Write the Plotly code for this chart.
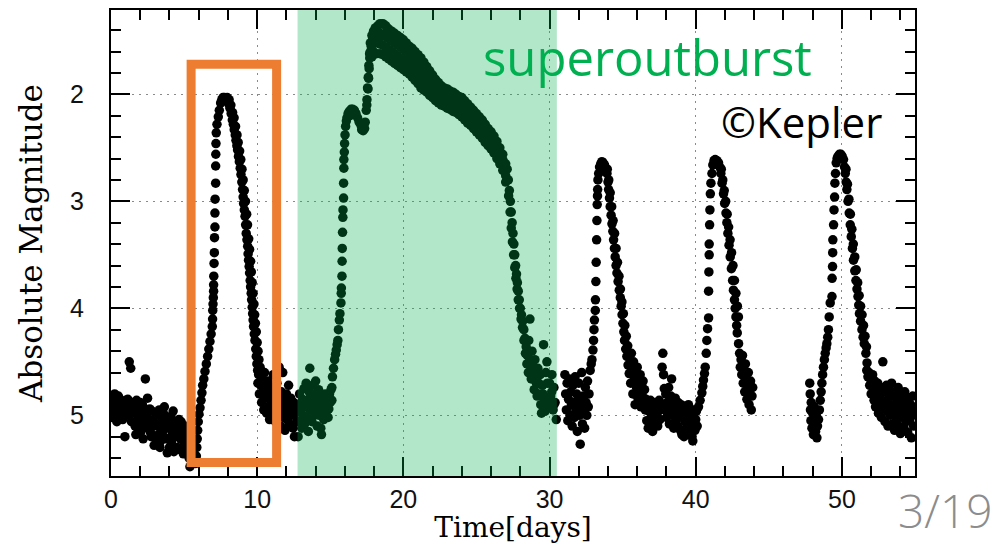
import plotly.graph_objects as go

# ---------------- data ----------------
# quiescence before the first normal outburst
q0_t = [0.05,0.15,0.25,0.35,0.45,0.55,0.65,0.75,0.85,0.95,1.05,1.15,1.25,1.35,1.45,1.55,1.65,1.75,1.85,1.95,
        2.05,2.15,2.25,2.35,2.45,2.55,2.65,2.75,2.85,2.95,3.05,3.15,3.25,3.35,3.45,3.55,3.65,3.75,3.85,3.95,
        4.05,4.15,4.25,4.35,4.45,4.55,4.65,4.75,4.85,4.95,5.05,5.15,5.25,5.35,5.45,
        0.0,0.1,0.2,0.3,0.4,0.5,0.6,0.7,0.8,0.9,1.0,1.1,1.2,1.3,1.4,1.5,1.6,1.7,1.8,1.9,
        2.0,2.1,2.2,2.3,2.4,2.5,2.6,2.7,2.8,2.9,3.0,3.1,3.2,3.3,3.4,3.5,3.6,3.7,3.8,3.9,
        4.0,4.1,4.2,4.3,4.4,4.5,4.6,4.7,4.8,4.9,5.0,5.1,5.2,5.3,5.4]
q0_m = [4.86,4.95,4.80,5.00,4.90,4.84,5.02,4.92,4.88,5.20,4.96,4.85,4.50,4.56,4.98,4.92,5.10,4.86,5.04,4.95,
        5.15,4.90,5.05,4.66,5.00,5.12,4.94,5.20,5.05,5.28,5.08,4.98,5.18,5.30,5.02,5.14,4.92,5.22,5.35,5.06,
        5.12,5.26,4.96,5.18,5.10,5.30,5.04,5.22,5.14,5.36,5.10,5.24,5.18,5.40,5.30,
        4.90,5.02,4.88,4.94,5.06,4.82,4.96,4.88,5.04,4.94,4.86,5.00,4.92,4.90,5.06,4.88,4.98,5.18,4.94,5.10,
        4.88,5.02,5.22,4.96,5.10,4.84,5.04,5.16,4.96,5.10,5.20,5.00,5.10,4.95,5.24,5.08,5.20,5.00,5.12,5.22,
        5.30,5.02,5.16,5.34,5.20,5.08,5.16,5.32,5.06,5.20,5.28,5.16,5.30,5.20,5.48]

# first normal outburst
o1_rise_t = [5.80,5.84,5.87,5.90,5.93,5.97,6.02,6.09,6.16,6.22,6.27,6.35,6.43,6.52,6.61,6.69,6.77,6.85,6.93,6.95,
             6.96,6.98,7.00,7.02,7.02,7.03,7.05,7.07,7.08,7.11,7.11,7.12,7.16,7.16,7.17,7.18,7.20,7.25,7.34,7.41,
             7.50,7.58,7.66,7.75]
o1_rise_m = [5.45,5.38,5.30,5.22,5.14,5.06,4.99,4.93,4.86,4.79,4.72,4.66,4.59,4.52,4.45,4.38,4.31,4.24,4.17,4.10,
             4.02,3.96,3.90,3.84,3.78,3.70,3.58,3.48,3.34,3.24,3.11,2.98,2.83,2.67,2.56,2.46,2.36,2.28,2.21,2.15,
             2.08,2.05,2.03,2.03]
o1_decl_t = [7.85,7.95,8.05,8.14,8.22,8.30,8.37,8.43,8.50,8.55,8.61,8.66,8.72,8.78,8.84,8.89,8.95,9.00,9.04,9.07,
             9.12,9.17,9.21,9.25,9.30,9.35,9.38,9.41,9.45,9.48,9.52,9.55,9.59,9.62,9.66,9.69,9.72,9.75,9.80,9.85,
             9.90,9.94,9.98,10.03,
             7.95,8.08,8.20,8.32,8.42,8.52,8.62,8.70,8.80,8.88,8.96,9.04,9.12,9.20,9.28,9.34,9.42,9.48,9.55,9.60,
             9.66,9.72,9.78,9.83,9.88,9.94,10.00,10.06,10.12]
o1_decl_m = [2.04,2.06,2.09,2.13,2.18,2.24,2.28,2.33,2.38,2.43,2.48,2.52,2.58,2.63,2.69,2.75,2.82,2.89,2.96,3.02,
             3.08,3.14,3.22,3.30,3.36,3.42,3.49,3.55,3.61,3.67,3.74,3.80,3.86,3.92,3.99,4.05,4.11,4.17,4.24,4.30,
             4.38,4.45,4.52,4.58,
             2.03,2.05,2.10,2.17,2.22,2.30,2.38,2.45,2.53,2.61,2.70,2.80,2.90,3.00,3.12,3.22,3.35,3.45,3.56,3.66,
             3.76,3.86,3.96,4.06,4.14,4.22,4.32,4.40,4.48]
q1_t = [10.05,10.10,10.15,10.20,10.25,10.30,10.35,10.40,10.45,10.50,10.55,10.60,10.65,10.70,10.75,10.80,10.85,
        10.90,10.95,11.00,11.05,11.10,11.15,11.20,11.25,11.30,11.35,11.40,11.45,11.50,11.55,11.60,11.65,11.70,
        11.75,11.80,11.85,11.90,11.95,12.00,12.05,12.10,12.15,12.20,12.25,12.30,12.35,12.40,12.45,12.50,12.55,
        12.60,12.65,12.70]
q1_m = [4.70,4.62,4.80,4.55,4.72,4.88,4.66,4.78,4.95,4.60,4.84,4.72,4.98,4.80,4.68,4.92,5.04,
        4.86,4.74,5.00,4.88,4.62,4.95,4.80,5.06,4.90,4.70,5.00,4.84,4.55,4.96,5.10,4.78,4.92,
        4.60,5.02,4.86,5.14,4.96,4.80,5.04,4.90,4.72,5.08,4.94,4.84,5.00,4.92,5.12,4.88,5.20,
        4.98,4.90,5.06]

# superoutburst
q2_t = [12.80,12.85,12.90,12.95,13.00,13.05,13.10,13.15,13.20,13.25,13.30,13.35,13.40,13.45,13.50,13.55,13.60,
        13.65,13.70,13.75,13.80,13.85,13.90,13.95,14.00,14.05,14.10,14.15,14.20,14.25,14.30,14.35,14.40,14.45,
        14.50,14.55,14.60,14.65,14.70,14.75,14.80,14.85,14.90,14.95,15.00,15.05]
q2_m = [5.20,4.95,4.80,5.05,4.90,5.12,4.85,5.00,4.75,5.08,4.92,4.70,5.02,4.86,5.15,4.78,4.56,
        4.96,4.84,5.06,4.72,4.90,5.00,4.80,4.68,4.94,5.10,4.86,4.76,5.00,4.90,5.12,5.18,4.82,
        4.96,5.04,4.88,4.80,4.98,4.90,4.84,5.02,4.94,4.80,4.88,4.76]
so_rise_t = [15.11,15.11,15.15,15.22,15.30,15.36,15.41,15.47,15.52,15.56,15.62,15.66,15.73,15.75,15.76,15.80,
             15.81,15.82,15.84,15.86,15.87,15.91,15.91,15.93,15.93,15.96,15.98,16.01,16.05,16.10,16.14,16.22,
             16.30,16.42,16.53,16.65,16.76,16.87,16.98,17.10,17.21,17.30,17.39,17.46,17.51,17.55,17.60,17.64,
             17.69,17.74,17.85,17.96,18.08,18.25,
             16.35,16.50,17.15,17.25,17.35,17.50,17.58,17.62,17.66,17.70,17.75,17.80,17.85,17.90,17.95,18.00,
             18.10,18.15,18.20,18.30]
so_rise_m = [4.86,4.74,4.64,4.56,4.48,4.43,4.39,4.34,4.30,4.20,4.11,4.05,3.95,3.86,3.81,3.70,
             3.56,3.44,3.29,3.15,3.08,2.97,2.83,2.69,2.61,2.54,2.46,2.38,2.30,2.25,2.22,2.18,
             2.16,2.14,2.14,2.15,2.18,2.22,2.26,2.29,2.30,2.28,2.26,2.15,2.05,1.94,1.84,1.73,
             1.62,1.52,1.45,1.41,1.38,1.36,
             2.20,2.18,2.33,2.34,2.32,2.10,1.95,1.85,1.76,1.66,1.60,1.55,1.65,1.48,1.60,1.42,
             1.52,1.62,1.40,1.50]
so_plat_t = [18.4,18.6,18.8,19.0,19.2,19.4,19.6,19.8,20.0,20.2,20.4,20.6,20.8,21.0,21.2,21.4,21.6,21.8,
             22.0,22.2,22.4,22.6,22.8,23.0,23.2,23.4,23.6,23.8,24.0,24.2,24.4,24.6,24.8,25.0,25.2,25.4,
             25.6,25.8,26.0,26.2,26.4,26.6,26.8,27.0]
so_plat_a = [1.34,1.34,1.36,1.39,1.41,1.43,1.45,1.47,1.49,1.52,1.55,1.57,1.60,1.63,1.66,1.70,1.74,1.78,
             1.82,1.86,1.89,1.92,1.94,1.95,1.97,1.98,2.00,2.02,2.03,2.06,2.09,2.12,2.15,2.18,2.21,2.24,
             2.28,2.32,2.35,2.39,2.44,2.50,2.56,2.65]
so_plat_b = [1.43,1.44,1.46,1.48,1.50,1.52,1.54,1.56,1.58,1.61,1.63,1.66,1.69,1.72,1.75,1.79,1.82,1.86,
             1.89,1.92,1.95,1.98,1.99,2.01,2.03,2.04,2.06,2.08,2.09,2.12,2.15,2.18,2.21,2.24,2.27,2.30,
             2.34,2.37,2.40,2.44,2.49,2.55,2.61,2.70]
so_plat_c = [1.53,1.54,1.56,1.58,1.60,1.62,1.64,1.66,1.68,1.70,1.72,1.75,1.78,1.81,1.85,1.88,1.90,1.93,
             1.96,1.99,2.02,2.04,2.05,2.07,2.09,2.10,2.12,2.14,2.15,2.18,2.21,2.23,2.26,2.29,2.32,2.35,
             2.39,2.43,2.46,2.50,2.55,2.60,2.66,2.76]
so_plat_d = [1.62,1.63,1.65,1.67,1.69,1.71,1.73,1.75,1.77,1.79,1.81,1.84,1.87,1.90,1.94,1.96,1.98,2.01,
             2.03,2.06,2.08,2.10,2.11,2.13,2.14,2.16,2.17,2.19,2.21,2.24,2.27,2.29,2.32,2.35,2.38,2.41,
             2.45,2.48,2.51,2.55,2.60,2.65,2.71,2.82]
so_decl_t = [27.10,27.18,27.25,27.32,27.38,27.44,27.50,27.56,27.62,27.68,27.74,27.80,27.86,27.93,28.00,28.08,
             28.16,28.24,28.32,28.40,28.48,28.58,28.66,28.70,28.80,28.90,29.00,29.10,29.20,29.30,29.36,29.45,
             29.52,29.59,29.66,29.75,29.82,29.90,30.00,30.08,30.16,30.24,30.30,30.38,30.46,
             27.20,27.30,27.38,27.46,27.54,27.62,27.70,27.78,27.86,27.95,28.05,28.15,28.25,28.35,28.45,28.55,
             28.65,28.75,28.85,28.95,29.05,29.15,29.25,29.40,29.55,29.70,29.85,30.00,30.15,30.30]
so_decl_m = [2.70,2.80,2.90,3.00,3.10,3.20,3.30,3.40,3.50,3.60,3.68,3.76,3.84,3.92,4.00,4.06,
             4.12,4.20,4.28,4.36,4.44,4.30,4.10,4.52,4.40,4.60,4.48,4.70,4.56,4.80,4.62,4.98,
             4.72,4.34,4.86,4.60,4.50,4.92,4.70,4.82,4.62,4.95,4.74,4.88,5.04,
             2.95,3.10,3.25,3.38,3.50,3.62,3.72,3.82,3.92,4.00,4.10,4.18,4.30,4.42,4.52,4.60,
             4.48,4.66,4.55,4.76,4.64,4.82,4.70,4.90,4.80,4.96,4.70,4.88,4.78,4.90]

# second normal outburst
q3_t = [31.05,31.10,31.15,31.20,31.25,31.30,31.35,31.40,31.45,31.50,31.55,31.60,31.65,31.70,31.75,31.80,31.85,
        31.90,31.95,32.00,32.05,32.10,32.15,32.20,32.25,32.30,32.35,32.40,32.45,32.50,32.55,32.60,32.65,32.70]
q3_m = [4.62,4.80,4.95,4.70,5.05,4.85,4.66,5.00,4.78,4.90,5.10,4.72,4.88,5.02,4.64,4.95,4.80,
        5.15,4.86,4.70,5.00,5.27,4.90,4.60,5.08,4.82,4.95,5.12,4.74,4.88,5.00,4.68,4.92,4.80]
o2_t = [32.78,32.85,32.90,32.97,33.01,33.04,33.07,33.13,33.14,33.17,33.19,33.22,33.24,33.26,33.28,33.29,33.31,
        33.36,33.42,33.50,33.58,33.67,33.76,
        33.85,33.93,34.00,34.04,34.10,34.15,34.21,34.27,34.33,34.38,34.44,34.49,34.55,34.61,34.69,34.77,34.84,
        34.90,34.96,35.02,35.08,35.13,35.21,35.29,35.37,35.45,
        33.95,34.05,34.15,34.25,34.35,34.45,34.55,34.65,34.75,34.85,34.95,35.05,35.15,35.25,35.35,35.45,35.55]
o2_m = [4.58,4.52,4.48,4.39,4.30,4.20,4.11,4.02,3.92,3.75,3.57,3.36,3.18,3.03,2.95,2.89,2.80,
        2.74,2.68,2.65,2.63,2.64,2.66,
        2.70,2.74,2.82,2.89,2.97,3.05,3.13,3.21,3.28,3.36,3.44,3.52,3.60,3.67,3.75,3.83,3.90,
        3.98,4.06,4.14,4.22,4.30,4.38,4.45,4.53,4.61,
        2.70,2.80,2.92,3.05,3.18,3.30,3.44,3.57,3.70,3.82,3.94,4.05,4.16,4.26,4.35,4.42,4.50]
q4_t = [35.55,35.60,35.65,35.70,35.75,35.80,35.85,35.90,35.95,36.00,36.05,36.10,36.15,36.20,36.25,36.30,36.35,
        36.40,36.45,36.50,36.55,36.60,36.65,36.70,36.75,36.80,36.85,36.90,36.95,37.00,37.05,37.10,37.15,37.20,
        37.25,37.30,37.35,37.40,37.45,37.50,37.55,37.60,37.70,37.75,37.80,37.85,37.90,37.95,38.00,38.05,38.10,
        38.15,38.20,38.25,38.30,38.35,38.40,38.45,38.50,38.55,38.60,38.65,38.70,38.75,38.80,38.85,38.90,38.95,
        39.00,39.05,39.10,39.15,39.20,39.25,39.30,39.35,39.40,39.45,39.50,39.55,39.60,39.65,39.70,39.75,39.80,
        39.85,39.90,39.95,40.00,40.05,40.10]
q4_m = [4.70,4.42,4.58,4.80,4.50,4.66,4.90,4.60,4.74,4.55,4.84,4.68,4.78,4.62,4.92,4.72,4.82,
        4.68,4.88,4.76,4.95,4.85,5.05,4.90,5.12,4.96,5.10,4.86,5.02,4.92,5.15,4.98,4.88,5.08,
        4.94,5.00,4.90,5.10,4.96,4.86,5.04,4.92,4.55,4.42,4.62,4.75,4.95,4.80,5.02,4.88,4.96,
        4.74,5.08,4.90,4.82,4.66,5.00,4.86,5.12,4.94,4.84,5.04,4.92,5.10,4.88,5.00,4.96,5.14,
        4.90,5.18,5.02,4.92,5.20,5.06,4.96,5.12,4.98,5.08,4.90,5.16,5.02,4.94,5.10,5.20,5.24,
        5.06,4.98,5.14,5.04,4.96,5.10]

# third normal outburst
o3_t = [40.19,40.30,40.42,40.48,40.53,40.60,40.65,40.72,40.76,40.81,40.88,40.88,40.90,40.92,40.92,40.95,40.97,
        41.00,41.04,41.11,41.17,41.25,41.33,41.45,41.56,
        41.65,41.72,41.80,41.90,41.98,42.07,42.13,42.20,42.28,42.36,42.44,42.52,42.58,42.65,42.70,42.75,42.80,
        42.84,42.93,
        41.75,41.85,41.95,42.05,42.15,42.25,42.35,42.45,42.55,42.65,42.75,42.85,42.92,
        43.00,43.05,43.10,43.15,43.20,43.25,43.30,43.35,43.40,43.45,43.50,43.55,43.60,43.65,43.70,43.75,43.80,
        43.85,43.90]
o3_m = [4.92,4.86,4.79,4.73,4.67,4.61,4.55,4.42,4.30,4.19,4.09,3.84,3.66,3.50,3.40,3.22,3.08,
        2.93,2.83,2.74,2.66,2.62,2.61,2.62,2.64,
        2.68,2.74,2.83,2.93,3.02,3.11,3.20,3.30,3.41,3.52,3.63,3.74,3.83,3.92,4.00,4.08,4.16,
        4.23,4.33,
        2.70,2.80,2.90,3.00,3.12,3.24,3.36,3.48,3.60,3.74,3.86,3.98,4.08,
        4.42,4.55,4.48,4.62,4.44,4.70,4.58,4.78,4.52,4.66,4.85,4.72,4.60,4.90,4.76,4.68,4.95,
        4.82,4.74]

# fourth normal outburst
o4_t = [47.80,47.83,47.85,47.88,47.90,47.95,48.00,48.05,48.10,48.15,48.20,48.25,48.29,48.33,
        48.40,48.46,48.52,48.58,48.63,48.68,48.74,48.80,48.86,48.92,48.97,49.03,49.08,49.13,49.20,49.32,
        49.33,49.36,49.37,49.38,49.43,49.46,49.50,49.52,49.56,49.61,49.67,49.73,49.83,49.93,50.02,50.11,
        50.18,50.23,50.29,50.34,50.42,50.50,50.57,50.64,50.72,50.79,50.88,50.96,51.03,51.10,51.15,51.20,
        51.28,51.37,51.45,51.53,51.64,
        50.28,50.38,50.48,50.58,50.68,50.78,50.88,50.98,51.08,51.18,51.28,51.38,51.48,51.58,51.68]
o4_m = [4.70,4.80,4.95,5.05,4.88,5.12,4.98,5.18,4.92,5.08,5.15,5.00,5.21,5.10,
        5.04,4.95,4.86,4.78,4.70,4.62,4.55,4.48,4.42,4.37,4.33,4.27,4.20,4.08,3.95,3.89,
        3.72,3.61,3.48,3.36,3.22,3.08,2.96,2.83,2.74,2.64,2.60,2.58,2.56,2.56,2.58,2.61,
        2.68,2.74,2.82,2.89,3.00,3.11,3.22,3.33,3.44,3.55,3.65,3.74,3.82,3.89,3.97,4.05,
        4.12,4.20,4.27,4.33,4.42,
        2.70,2.84,2.98,3.12,3.26,3.40,3.52,3.64,3.76,3.88,3.98,4.06,4.16,4.26,4.36]
q5_t = [51.70,51.72,51.78,51.85,51.90,51.95,52.00,52.05,52.10,52.15,52.20,52.25,52.30,52.35,52.40,52.45,52.50,
        52.55,52.60,52.65,52.70,52.75,52.80,52.85,52.90,52.95,53.00,53.05,53.10,53.15,53.20,53.25,53.30,53.35,
        53.40,53.45,53.50,53.55,53.60,53.65,53.70,53.75,53.80,53.85,53.90,53.95,54.00,54.05,54.10,54.15,54.20,
        54.25,54.30,54.35,54.40,54.45,54.50,54.55,54.60,54.65,54.70,54.75,54.80,54.85,54.90,54.95]
q5_m = [4.58,4.51,4.64,4.60,4.72,4.66,4.80,4.70,4.62,4.78,4.86,4.68,4.92,4.76,4.84,4.70,4.98,
        4.80,4.90,4.74,5.02,4.86,4.50,4.94,4.78,5.06,4.88,4.72,4.96,5.10,4.84,4.76,5.00,4.90,
        4.70,5.08,4.82,4.96,5.14,4.78,4.92,5.04,4.86,4.74,5.10,4.96,5.17,4.88,4.80,5.02,4.92,
        5.12,4.78,4.98,5.06,4.86,5.16,4.94,4.84,5.04,4.90,5.21,5.00,4.82,5.10,4.96]

x_ticks = [0, 10, 20, 30, 40, 50]
y_ticks = [2, 3, 4, 5]
superoutburst_span = [12.76, 30.5]
highlight_box = [5.48, 11.33, 1.72, 5.44]   # x0, x1, y top, y bottom

# ---------------- assemble ----------------
time_days = (q0_t + o1_rise_t + o1_decl_t + q1_t + q2_t + so_rise_t + so_plat_t * 4 + so_decl_t
             + q3_t + o2_t + q4_t + o3_t + o4_t + q5_t)
abs_mag = (q0_m + o1_rise_m + o1_decl_m + q1_m + q2_m + so_rise_m + so_plat_a + so_plat_b + so_plat_c
           + so_plat_d + so_decl_m + q3_m + o2_m + q4_m + o3_m + o4_m + q5_m)

fig = go.Figure()
fig.add_trace(go.Scatter(x=time_days, y=abs_mag, mode="markers",
                         marker=dict(size=9.5, color="black", line=dict(width=0)),
                         showlegend=False, hoverinfo="skip"))

# superoutburst shading (drawn over the points, so they turn dark green)
fig.add_shape(type="rect", xref="x", yref="paper", x0=superoutburst_span[0], x1=superoutburst_span[1],
              y0=0, y1=1, fillcolor="rgb(0,176,80)", opacity=0.3, line=dict(width=0), layer="above")
# orange box around the first normal outburst
fig.add_shape(type="rect", xref="x", yref="y", x0=highlight_box[0], x1=highlight_box[1],
              y0=highlight_box[2], y1=highlight_box[3], line=dict(color="#ED7D31", width=9),
              fillcolor="rgba(0,0,0,0)", layer="above")

fig.add_annotation(text="superoutburst", xref="paper", yref="paper", x=0.667, y=0.900,
                   xanchor="center", yanchor="middle", showarrow=False,
                   font=dict(family="Open Sans", size=49, color="#00B050"))
fig.add_annotation(text="©Kepler", xref="paper", yref="paper", x=0.859, y=0.760,
                   xanchor="center", yanchor="middle", showarrow=False,
                   font=dict(family="Open Sans", size=42, color="black"))
fig.add_annotation(text="3/19", xref="paper", yref="paper", x=1.037, y=-0.073,
                   xanchor="center", yanchor="middle", showarrow=False,
                   font=dict(family="Open Sans", size=46, color="#8c8c8c", weight=300))

axis_common = dict(showline=True, linewidth=2, linecolor="black", mirror="ticks",
                   ticks="inside", tickwidth=1.6, tickcolor="black", ticklen=19,
                   showgrid=True, gridcolor="#8a8a8a", gridwidth=1.2, griddash="2px,5px",
                   zeroline=False, automargin=False,
                   tickfont=dict(family="Liberation Sans", size=25, color="#111"))

fig.update_xaxes(range=[0, 55], tickvals=x_ticks, ticklabelstandoff=0,
                 minor=dict(dtick=2, tick0=0, ticks="inside", ticklen=10, tickwidth=1.6,
                            tickcolor="black", showgrid=False),
                 title=dict(text="Time[days]", standoff=8,
                            font=dict(family="DejaVu Serif", size=28, color="black")),
                 **axis_common)
fig.update_yaxes(range=[5.567, 1.212], tickvals=y_ticks, ticklabelstandoff=20,
                 minor=dict(dtick=0.2, tick0=0, ticks="inside", ticklen=10, tickwidth=1.6,
                            tickcolor="black", showgrid=False),
                 title=dict(text="Absolute Magnitude", standoff=18,
                            font=dict(family="DejaVu Serif", size=31, color="black")),
                 **axis_common)

fig.update_layout(width=1008, height=544, margin=dict(l=111, r=93, t=10, b=68),
                  plot_bgcolor="white", paper_bgcolor="white")

fig.write_html("out.html")
